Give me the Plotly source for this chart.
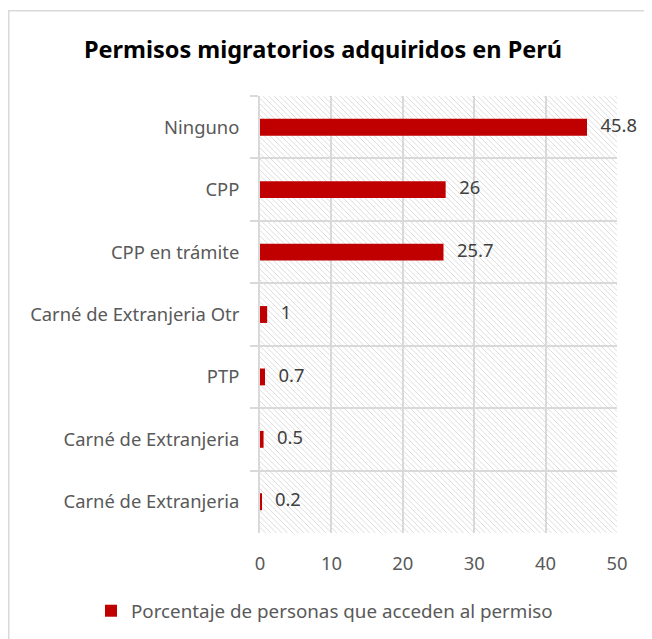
import plotly.graph_objects as go

categories = ["Ninguno", "CPP", "CPP en trámite", "Carné de Extranjeria Otr",
              "PTP", "Carné de Extranjeria", "Carné de Extranjeria\u200b"]
values = [45.8, 26, 25.7, 1, 0.7, 0.5, 0.2]
labels = ["45.8", "26", "25.7", "1", "0.7", "0.5", "0.2"]
x_ticks = [0, 10, 20, 30, 40, 50]
series_name = "Porcentaje de personas que acceden al permiso"
title = "Permisos migratorios adquiridos en Perú"

# the page body adds an 8px offset; figure coords = screen coords - 8
OFF = 8
W, H = 652, 639
PW, PH = 357, 437
ML, MT = 260 - OFF, 96 - OFF
MR, MB = W - ML - PW, H - MT - PH
FONT = "Noto Sans"
FS = 18.4

fig = go.Figure()
fig.add_trace(go.Bar(
    y=categories, x=values, orientation="h", name=series_name,
    marker=dict(color="#c00000", line=dict(width=0)), width=0.27,
))
fig.add_trace(go.Scatter(
    y=categories, x=values, mode="markers+text", text=labels,
    textposition="middle right", showlegend=False, hoverinfo="skip", cliponaxis=False,
    marker=dict(size=20, opacity=0),
    textfont=dict(family=FONT, size=FS, color="#404040"),
))

# hatch background (decoration) drawn as a path in paper units, clipped to the plot rect
step = 5.5
segs = []
k = -PH
while k < PW:
    t0 = max(0, -k)
    t1 = min(PH, PW - k)
    if t1 > t0:
        x0p, y0p = k + t0, t0
        x1p, y1p = k + t1, t1
        segs.append("M%.5f,%.5f L%.5f,%.5f" % (x0p / PW, 1 - y0p / PH, x1p / PW, 1 - y1p / PH))
    k += step
shapes = [
    dict(type="path", xref="paper", yref="paper", path=" ".join(segs),
         line=dict(color="#dedede", width=1), layer="below"),
    dict(type="rect", xref="paper", yref="paper",
         x0=(0.75 - ML) / PW, x1=(W + 20 - ML) / PW,
         y0=-(H + 20 - (MT + PH)) / PH, y1=(MT + PH - 2.75) / PH,
         line=dict(color="#d9d9d9", width=1.5), fillcolor="rgba(0,0,0,0)", layer="below"),
]

legend_center_y = 611 - OFF
fig.update_layout(
    width=W, height=H,
    margin=dict(l=ML, r=MR, t=MT, b=MB, autoexpand=False),
    paper_bgcolor="white", plot_bgcolor="white",
    title=dict(text="<b>" + title + "</b>", x=(323 - OFF) / W, xanchor="center",
               y=1 - (50 - OFF) / H, yanchor="middle",
               font=dict(family=FONT, size=23.5, color="#000000")),
    font=dict(family=FONT, size=FS, color="#595959"),
    shapes=shapes,
    showlegend=True,
    legend=dict(orientation="h", xref="paper", yref="paper",
                x=(133 - OFF - 42 - ML) / PW, xanchor="left",
                y=(MT + PH - legend_center_y) / PH, yanchor="middle",
                font=dict(family=FONT, size=18.8, color="#595959")),
    xaxis=dict(range=[0, 50], tickvals=x_ticks, showgrid=True, gridcolor="#d9d9d9", gridwidth=2,
               zeroline=False, showline=False, ticks="", ticklabelstandoff=18, automargin=False,
               tickfont=dict(family=FONT, size=FS, color="#595959")),
    yaxis=dict(range=[len(categories) - 0.5, -0.5], type="category", tickson="boundaries",
               showgrid=True, gridcolor="#d9d9d9", gridwidth=2,
               showline=True, linecolor="#d9d9d9", linewidth=2,
               ticks="outside", ticklen=8, tickcolor="#d9d9d9", tickwidth=2,
               ticklabelstandoff=15, automargin=False,
               tickfont=dict(family=FONT, size=FS, color="#595959")),
)

fig.write_html("out.html")
